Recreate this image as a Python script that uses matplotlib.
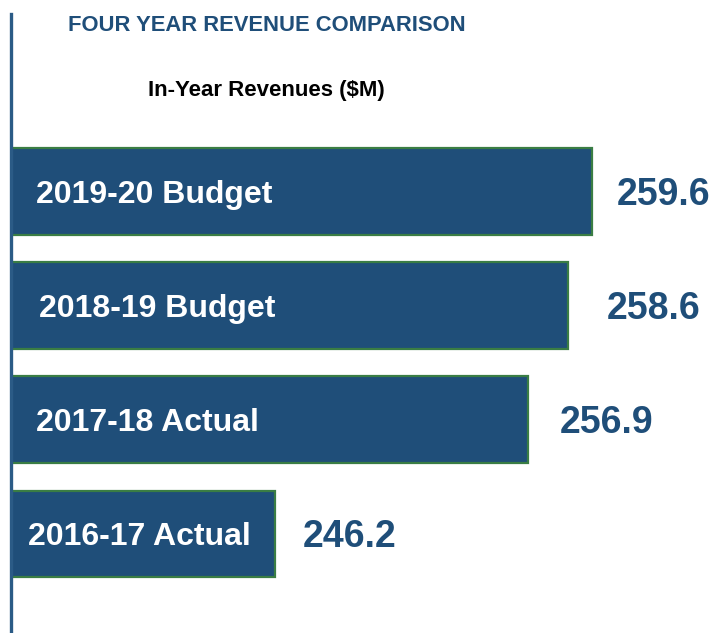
import matplotlib

matplotlib.use("Agg")
import matplotlib.pyplot as plt
import numpy as np
from matplotlib import font_manager

CATEGORIES = ["2016-17 Actual", "2017-18 Actual", "2018-19 Budget", "2019-20 Budget"]
REVENUES = [246.2, 256.9, 258.6, 259.6]

TITLE = "FOUR YEAR REVENUE COMPARISON"
SUBTITLE = "In-Year Revenues ($M)"

BLUE = "#1F4E79"
SPINE_BLUE = "#2B5B86"
EDGE_GREEN = "#3A7D44"

# small per-bar nudges (in points) to mimic the hand placed labels
NAME_PAD = [12, 18, 20, 18]
VALUE_PAD = [20, 23, 28, 18]

W, H = 718, 633


def pick_family(names):
    available = {f.name for f in font_manager.fontManager.ttflist}
    return [n for n in names if n in available] or ["DejaVu Sans"]


narrow = pick_family(["Liberation Sans Narrow"])
regular = pick_family(["Liberation Sans", "DejaVu Sans"])
has_narrow = narrow != ["DejaVu Sans"]
if not has_narrow:
    narrow = regular
# the original heading uses a condensed face; shrink if we only have the regular one
title_fs = 18.3 if has_narrow else 15.8
sub_fs = 18.7 if has_narrow else 16.0

fig = plt.figure(figsize=(W / 100, H / 100), dpi=100)
ax = fig.add_axes([11 / W, 0, 1 - 11 / W, 1 - 14 / H])

y = np.arange(len(CATEGORIES))
ax.barh(y, REVENUES, height=0.76, color=BLUE, edgecolor=EDGE_GREEN, linewidth=1.6, zorder=1)
ax.set_xlim(235, 235 + (W - 11) / 23.6)
ax.set_ylim(-0.866, 4.55)

for i, (name, val) in enumerate(zip(CATEGORIES, REVENUES)):
    fs = 23
    ax.annotate(name, xy=(235, i), xytext=(NAME_PAD[i], -0.358 * fs),
                textcoords="offset points", ha="left", va="baseline",
                fontsize=fs, fontweight="bold", color="white", family=regular)
    fs = 27
    ax.annotate(f"{val:.1f}", xy=(val, i), xytext=(VALUE_PAD[i], -0.358 * fs),
                textcoords="offset points", ha="left", va="baseline",
                fontsize=fs, fontweight="bold", color=BLUE, family=regular)

for side in ["top", "right", "bottom"]:
    ax.spines[side].set_visible(False)
ax.spines["left"].set_color(SPINE_BLUE)
ax.spines["left"].set_linewidth(2.4)
ax.set_xticks([])
ax.set_yticks([])

fig.text(267 / W, 1 - 31 / H, TITLE, ha="center", va="baseline", fontsize=title_fs,
         fontweight="bold", color=BLUE, family=narrow)
fig.text(266 / W, 1 - 96 / H, SUBTITLE, ha="center", va="baseline", fontsize=sub_fs,
         fontweight="bold", color="black", family=narrow)

fig.savefig("out.png", dpi=100)
